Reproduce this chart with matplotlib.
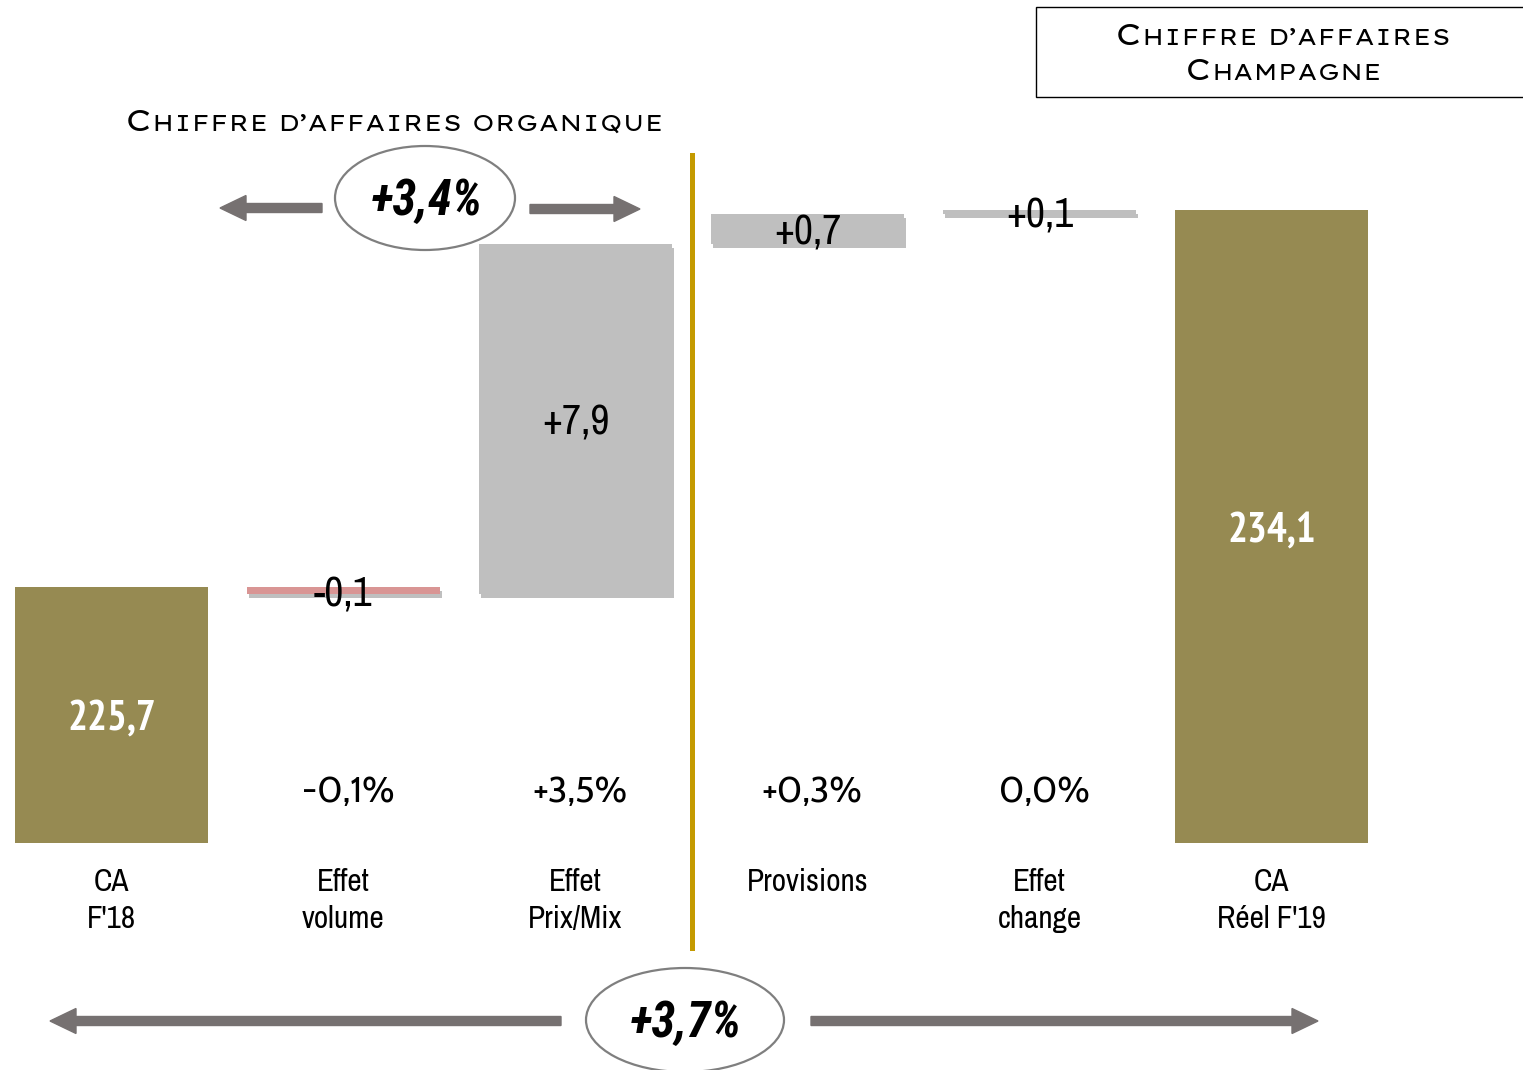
import matplotlib.pyplot as plt
import matplotlib.patheffects as pe
from matplotlib import font_manager
from matplotlib.patches import Ellipse, FancyArrow, Rectangle

# data
categories = ["CA\nF'18", "Effet\nvolume", "Effet\nPrix/Mix", "Provisions", "Effet\nchange", "CA\nRéel F'19"]
start_value = 225.7
end_value = 234.1
deltas = [-0.15, 7.8, 0.66, 0.09]
delta_labels = ["-0,1", "+7,9", "+0,7", "+0,1"]
pct_labels = ["-0,1%", "+3,5%", "+0,3%", "0,0%"]
total_labels = ["225,7", "234,1"]
organic_growth = "+3,4%"
total_growth = "+3,7%"

W, H = 1523, 1070
base = 220.0
olive = '#968A52'
grey = '#BFBFBF'
pink = '#D99594'
arrow_col = '#767171'

fonts = font_manager.fontManager.ttflist


def pick(cands, bold=False, italic=False):
    style = 'italic' if italic else 'normal'
    for c in cands:
        for f in fonts:
            if f.name == c and f.style == style and ((f.weight >= 700) if bold else (f.weight == 400)):
                return [c, 'DejaVu Sans']
    return ['DejaVu Sans']


narrow_names = ['Liberation Sans Narrow', 'Arial Narrow', 'Archivo Narrow', 'PT Sans Narrow',
                'Roboto Condensed', 'Barlow Condensed', 'Fira Sans Condensed',
                'IBM Plex Sans Condensed', 'Encode Sans Condensed', 'Liberation Sans']
narrow = pick(narrow_names)
narrow_bold = pick(narrow_names, bold=True)
narrow_bi = pick(narrow_names, bold=True, italic=True)
caps_font = pick(['Lexend Peta', 'Lexend Tera', 'Lexend Giga', 'Zalando Sans Expanded', 'Syncopate'])
pct_font = pick(['Gill Sans', 'Cabin', 'Open Sans'])

fig = plt.figure(figsize=(W / 100, H / 100), dpi=100)
ax = fig.add_axes([0, 0, 1, 1])
ax.set_xlim(-111.5 / 232, (W - 111.5) / 232)
ax.set_ylim(base - (H - 843) / 44.9, base + 843 / 44.9)
ax.axis('off')


def fx(px):
    return px / W


def fy(py):
    return 1 - py / H


# total bars
ax.bar([0, 5], [start_value - base, end_value - base], bottom=base, width=0.83, color=olive)
for i, v, lab in zip([0, 5], [start_value, end_value], total_labels):
    ax.text(i, (base + v) / 2 - 0.1, lab, ha='center', va='center', color='white',
            fontsize=30, fontweight='bold', family=narrow_bold)

# floating bars
shadow = [pe.SimplePatchShadow(offset=(1.5, -3), shadow_rgbFace='#606060', alpha=0.4), pe.Normal()]
level = start_value
for k, d in enumerate(deltas):
    i = k + 1
    lo, hi = min(level, level + d), max(level, level + d)
    col = pink if d < 0 else grey
    b = ax.bar(i, hi - lo, bottom=lo, width=0.83, color=col)
    for p in b:
        p.set_path_effects(shadow)
    ax.text(i, (lo + hi) / 2 - 0.08, delta_labels[k], ha='center', va='center', color='black',
            fontsize=30, family=narrow, zorder=5)
    ax.text(i + 0.02, fy(793), pct_labels[k], transform=ax.get_xaxis_transform(),
            ha='center', va='center', fontsize=26, family=pct_font)
    level += d

# category labels
for i, c in enumerate(categories):
    ax.text(i, fy(868), c, transform=ax.get_xaxis_transform(), ha='center', va='top',
            fontsize=22.5, family=narrow, linespacing=1.38)

# separator
ax.axvline(2.5, ymin=fy(948), ymax=fy(155), color='#C49A00', lw=3.6)


def harrow(x0, x1, y):
    dx = fx(x1) - fx(x0)
    ax.add_patch(FancyArrow(fx(x0), fy(y), dx, 0, width=9 / H, head_width=25 / H,
                            head_length=26 / W, length_includes_head=True,
                            color=arrow_col, transform=ax.transAxes, clip_on=False))


harrow(322, 220, 208)
harrow(530, 640, 209)
harrow(561, 50, 1021)
harrow(811, 1318, 1021)

# growth ellipses
ax.add_patch(Ellipse((fx(425), fy(198)), 180 / W, 104 / H, transform=ax.transAxes,
                     facecolor='white', edgecolor='#7F7F7F', lw=1.6, zorder=4))
ax.text(fx(427), fy(201), organic_growth, transform=ax.transAxes, ha='center', va='center',
        fontsize=35, fontweight='bold', fontstyle='italic', family=narrow_bi, zorder=5)
ax.add_patch(Ellipse((fx(685), fy(1020)), 198 / W, 104 / H, transform=ax.transAxes,
                     facecolor='white', edgecolor='#7F7F7F', lw=1.6, zorder=4, clip_on=False))
ax.text(fx(686), fy(1023), total_growth, transform=ax.transAxes, ha='center', va='center',
        fontsize=35, fontweight='bold', fontstyle='italic', family=narrow_bi, zorder=5)

# small caps titles (big first letter, smaller rest), fitted to the reference width
renderer = fig.canvas.get_renderer()


def small_caps(first, rest, x, y, width, align='left'):
    t1 = ax.text(0, fy(y), first, transform=ax.transAxes, va='baseline', ha='left',
                 fontsize=20, family=caps_font)
    t2 = ax.text(0, fy(y), rest, transform=ax.transAxes, va='baseline', ha='left',
                 fontsize=15, family=caps_font)
    w = t1.get_window_extent(renderer).width + t2.get_window_extent(renderer).width
    s = min(width / w, 1.2)
    t1.set_fontsize(20 * s)
    t2.set_fontsize(15 * s)
    w1 = t1.get_window_extent(renderer).width / W
    w2 = t2.get_window_extent(renderer).width / W
    x0 = fx(x) if align == 'left' else fx(x) - (w1 + w2) / 2
    t1.set_x(x0)
    t2.set_x(x0 + w1)


small_caps('C', 'HIFFRE D’AFFAIRES ORGANIQUE', 125, 131, 538)
ax.add_patch(Rectangle((fx(1036), fy(97)), (W - 1036 + 20) / W, 90 / H, transform=ax.transAxes,
                       facecolor='white', edgecolor='black', lw=1, clip_on=False))
small_caps('C', 'HIFFRE D’AFFAIRES', 1283, 45, 335, align='center')
small_caps('C', 'HAMPAGNE', 1284, 80, 198, align='center')

fig.savefig('out.png', dpi=100)
